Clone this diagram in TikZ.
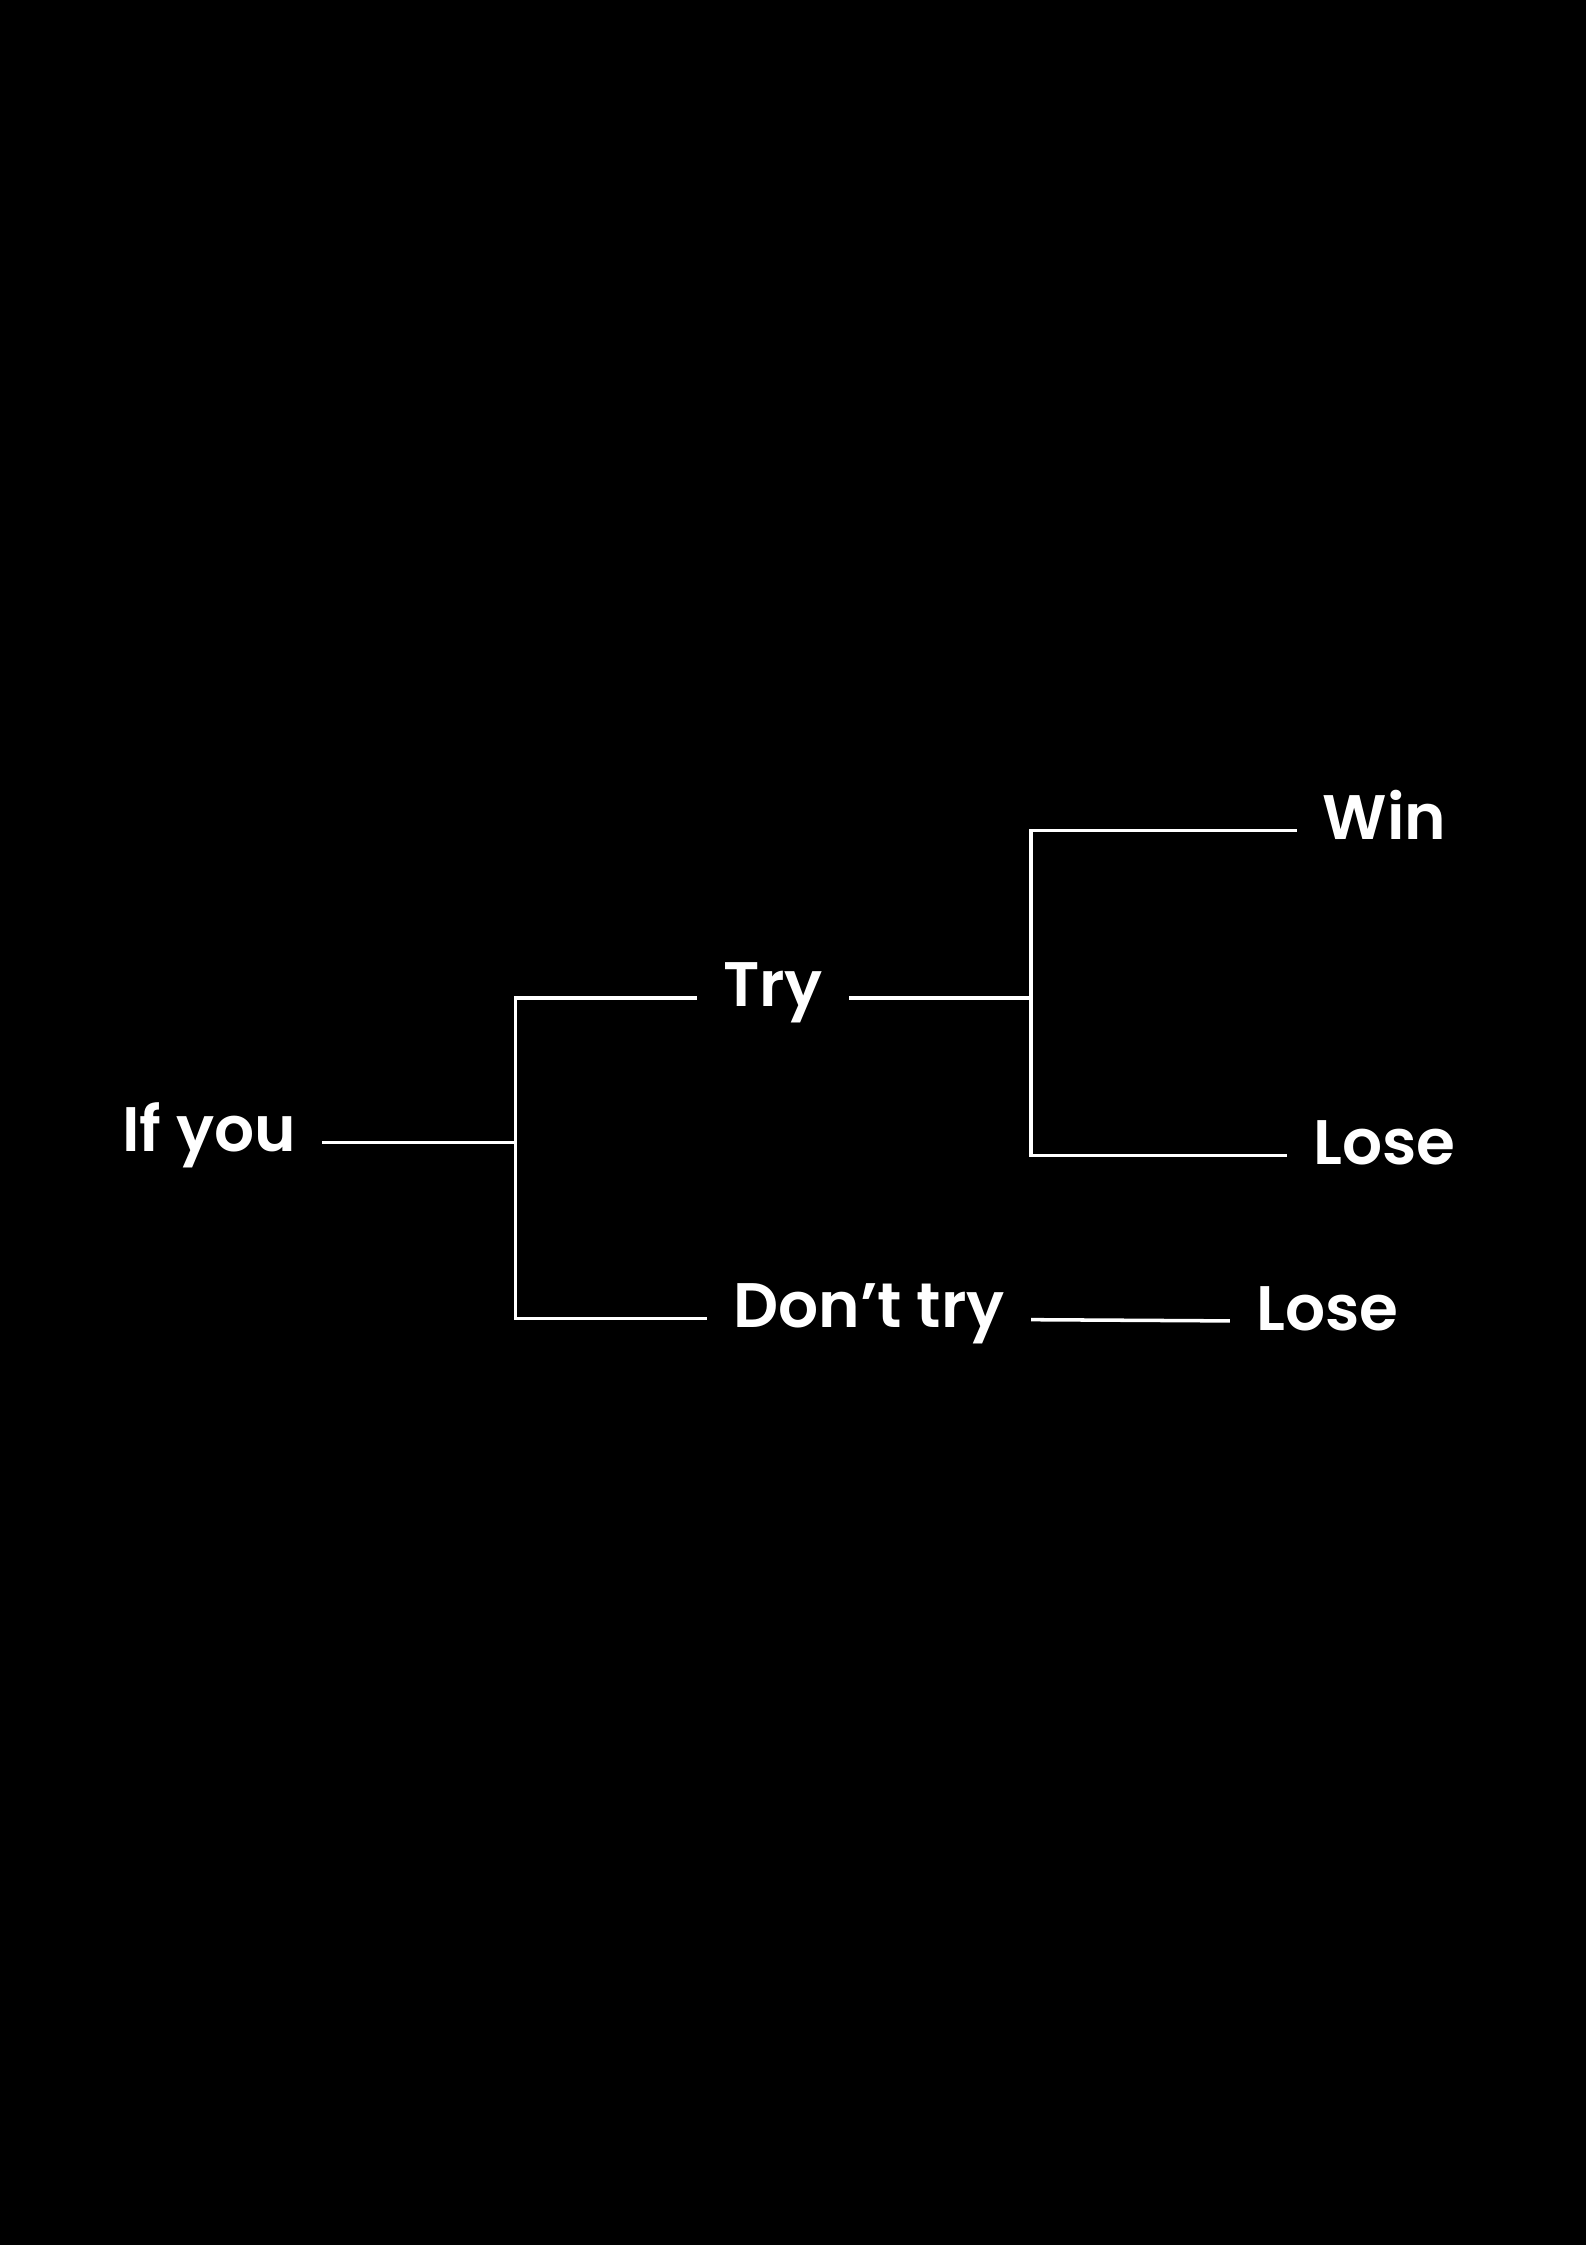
\documentclass[tikz,border=0pt]{standalone}
\usepackage{fontspec}
\setmainfont{Poppins}[BoldFont=* SemiBold]
\begin{document}
\begin{tikzpicture}[x=0.02cm,y=-0.02cm,
  every node/.style={text=white,font=\bfseries\fontsize{25}{30}\selectfont,
    inner xsep=0.36cm,text height=0.7em,text depth=0pt},
  branch/.style={draw=white,line width=1.4pt}]
\fill[black] (0,0) rectangle (1108,1568);
\useasboundingbox (0,0) rectangle (1108,1568);
% labels
\node (ifyou) at (146,798) {If you};
\node (try) at (540,697) {Try};
\node (donttry) at (607,921) {Don’t try};
\node (win) at (967,580) {Win};
\node (lose) at (967,807) {Lose};
\node (lost) at (927,923) {Lose};
% forks
\coordinate (forka) at (360,798);
\coordinate (forkb) at (720,697);
\draw[branch] (ifyou) -- (forka);
\draw[branch] (try) -| (forka) |- (donttry);
\draw[branch] (try) -- (forkb);
\draw[branch] (win) -| (forkb) |- (lose);
\draw[branch] (donttry) -- (lost);
\end{tikzpicture}
\end{document}
